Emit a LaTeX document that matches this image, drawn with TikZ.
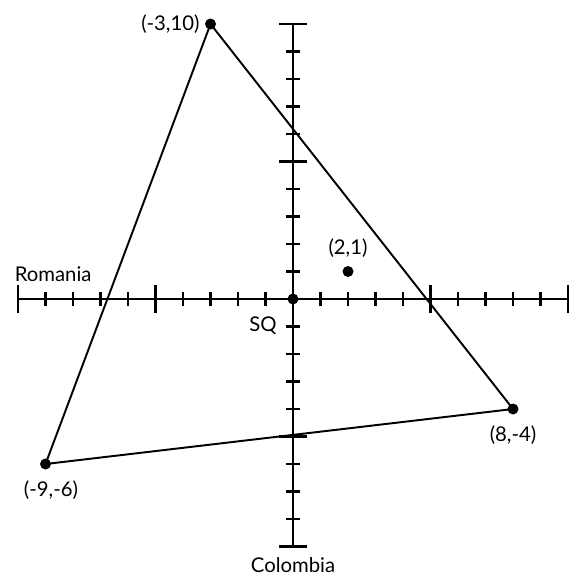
\documentclass[tikz,border=0pt]{standalone}
\usepackage{fontspec}
\setmainfont{Lato}
\usetikzlibrary{positioning}

\begin{document}
\begin{tikzpicture}[x=0.5cm, y=0.5cm,
  axis/.style={line width=1.5pt},
  tick/.style={line width=1.1pt},
  side/.style={line width=1pt},
  dot/.style={circle, fill=black, inner sep=0pt, minimum size=0.2cm},
  lbl/.style={font=\fontsize{10.5}{12}\selectfont, inner sep=1pt}
]
\useasboundingbox (-10.655,-10.145) rectangle (10.18,10.873);

% axes
\coordinate (xl) at (-10,0);
\coordinate (xr) at (10,0);
\coordinate (yb) at (0,-9);
\coordinate (yt) at (0,10);
\draw [axis] (xl) -- (xr);
\draw [axis] (yb) -- (yt);

\foreach \i in {-9,-8,-7,-6,-4,-3,-2,-1,1,2,3,4,6,7,8,9}
  \draw [tick] (\i,-0.25) -- (\i,0.25);
\foreach \i in {-10,-5,5,10}
  \draw [tick] (\i,-0.5) -- (\i,0.5);
\foreach \j in {-8,-7,-6,-4,-3,-2,-1,1,2,3,4,6,7,8,9}
  \draw [tick] (-0.25,\j) -- (0.25,\j);
\foreach \j in {-9,-5,5,10}
  \draw [tick] (-0.5,\j) -- (0.5,\j);

% points
\node (o) [dot] at (0,0) {};
\node (a) [dot] at (-3,10) {};
\node (b) [dot] at (8,-4) {};
\node (c) [dot] at (-9,-6) {};
\node (p) [dot] at (2,1) {};

% triangle
\draw [side] (a.center) -- (b.center) -- (c.center) -- cycle;

% labels
\node (la) [lbl, left=0.05cm of a] {(-3,10)};
\node (lb) [lbl, below=0.15cm of b] {(8,-4)};
\node (lc) [lbl, below=0.15cm of c, xshift=0.1cm] {(-9,-6)};
\node (lp) [lbl, above=0.1cm of p] {(2,1)};
\node (sq) [lbl, below left=0.2cm and 0.18cm of o] {SQ};
\node (rom) [lbl, above right=0.27cm and -0.1cm of xl] {Romania};
\node (col) [lbl, below=0.15cm of yb] {Colombia};

\end{tikzpicture}
\end{document}
